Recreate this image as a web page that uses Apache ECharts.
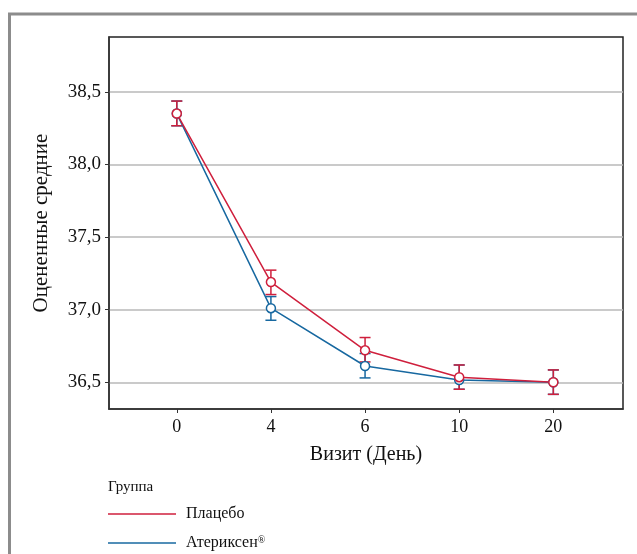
<!DOCTYPE html>
<html>
<head>
<meta charset="utf-8">
<script src="https://cdn.jsdelivr.net/npm/echarts@6/dist/echarts.min.js"></script>
<style>
  html, body { margin: 0; padding: 0; background: #fff; }
  #main { width: 637px; height: 554px; }
</style>
</head>
<body>
<div id="main"></div>
<script>
  // визиты (дни)
  var visits = ['0', '4', '6', '10', '20'];
  var yTicks = [36.5, 37.0, 37.5, 38.0, 38.5];

  // Плацебо
  var placeboMean = [38.35, 37.19, 36.72, 36.535, 36.50];
  var placeboLow  = [38.266, 37.104, 36.64, 36.452, 36.417];
  var placeboHigh = [38.436, 37.272, 36.808, 36.619, 36.585];

  // Атериксен (на 0, 10, 20 дне планки скрыты под красными)
  var aterMean = [38.35, 37.01, 36.612, 36.515, 36.50];
  var aterLow  = [38.266, 36.927, 36.53, 36.452, 36.417];
  var aterHigh = [38.436, 37.09, 36.698, 36.619, 36.585];

  var red = '#cf1f3c';
  var blue = '#1768a0';
  var font = 'Liberation Serif';

  function lineData(mean) {
    return mean.map(function (v, i) { return [i, v]; });
  }
  function errData(low, high) {
    return low.map(function (v, i) { return [i, v, high[i]]; });
  }
  function errSeries(name, color, low, high) {
    return {
      name: name,
      type: 'custom',
      data: errData(low, high),
      encode: { x: 0, y: [1, 2] },
      renderItem: function (params, api) {
        var lo = api.coord([api.value(0), api.value(1)]);
        var hi = api.coord([api.value(0), api.value(2)]);
        var w = 5.5;
        var st = { stroke: color, lineWidth: 1.5 };
        return {
          type: 'group',
          children: [
            { type: 'line', shape: { x1: hi[0], y1: hi[1], x2: lo[0], y2: lo[1] }, style: st },
            { type: 'line', shape: { x1: hi[0] - w, y1: hi[1], x2: hi[0] + w, y2: hi[1] }, style: st },
            { type: 'line', shape: { x1: lo[0] - w, y1: lo[1], x2: lo[0] + w, y2: lo[1] }, style: st }
          ]
        };
      }
    };
  }
  function lineSeries(name, color, mean) {
    return {
      name: name,
      type: 'line',
      data: lineData(mean),
      symbol: 'circle',
      symbolSize: 9,
      lineStyle: { color: color, width: 1.5 },
      itemStyle: { color: '#fff', borderColor: color, borderWidth: 1.5 },
      emphasis: { disabled: true }
    };
  }
  function legendBox(name, color, top) {
    return {
      orient: 'vertical',
      left: 108,
      top: top,
      padding: 0,
      itemWidth: 68,
      itemHeight: 1.5,
      icon: 'rect',
      data: [{ name: name, itemStyle: { color: color, borderWidth: 0 } }],
      formatter: function (n) { return n.replace('®', '{sup|®}'); },
      textStyle: {
        fontFamily: font, fontSize: 16, color: '#111', padding: [0, 0, 0, 5],
        rich: { sup: { fontFamily: font, fontSize: 10, color: '#111', verticalAlign: 'top', padding: [0, 0, 6, 0] } }
      },
      selectedMode: false
    };
  }

  var chart = echarts.init(document.getElementById('main'));
  chart.setOption({
    animation: false,
    backgroundColor: '#fff',
    title: {
      text: 'Группа',
      left: 103,
      top: 475,
      textStyle: { fontFamily: font, fontSize: 15, fontWeight: 'normal', color: '#111' }
    },
    legend: [
      legendBox('Плацебо', red, 506),
      legendBox('Атериксен®', blue, 535)
    ],
    grid: {
      left: 109, top: 37, right: 14, bottom: 145,
      show: true, borderColor: '#222', borderWidth: 1.5
    },
    xAxis: {
      type: 'value',
      min: -0.72,
      max: 4.74,
      name: 'Визит (День)',
      nameLocation: 'middle',
      nameGap: 36,
      nameTextStyle: { fontFamily: font, fontSize: 20, color: '#111' },
      axisLine: { show: true, onZero: false, lineStyle: { color: '#333', width: 1.5 } },
      axisTick: { show: true, length: 4, customValues: [0, 1, 2, 3, 4], lineStyle: { color: '#333' } },
      axisLabel: {
        customValues: [0, 1, 2, 3, 4],
        formatter: function (v) { return visits[Math.round(v)]; },
        fontFamily: font, fontSize: 18, color: '#111', margin: 9
      },
      splitLine: { show: false }
    },
    yAxis: {
      type: 'value',
      min: 36.316,
      max: 38.877,
      name: 'Оцененные средние',
      nameLocation: 'middle',
      nameGap: 57,
      nameRotate: 90,
      nameTextStyle: { fontFamily: font, fontSize: 21, color: '#111' },
      axisLine: { show: true, onZero: false, lineStyle: { color: '#333', width: 1.5 } },
      axisTick: { show: true, length: 4, customValues: yTicks, lineStyle: { color: '#333' } },
      axisLabel: {
        customValues: yTicks,
        formatter: function (v) { return v.toFixed(1).replace('.', ','); },
        fontFamily: font, fontSize: 19, color: '#111', margin: 8
      },
      splitLine: { show: true, lineStyle: { color: '#b8b8b8', width: 1.5 } }
    },
    graphic: [
      {
        type: 'polyline',
        shape: { points: [[9.5, 554], [9.5, 14], [637, 14]] },
        style: { stroke: '#8c8c8c', lineWidth: 3, fill: null },
        silent: true
      }
    ],
    series: [
      errSeries('Атериксен® err', blue, aterLow, aterHigh),
      lineSeries('Атериксен®', blue, aterMean),
      errSeries('Плацебо err', red, placeboLow, placeboHigh),
      lineSeries('Плацебо', red, placeboMean)
    ]
  });
</script>
</body>
</html>
